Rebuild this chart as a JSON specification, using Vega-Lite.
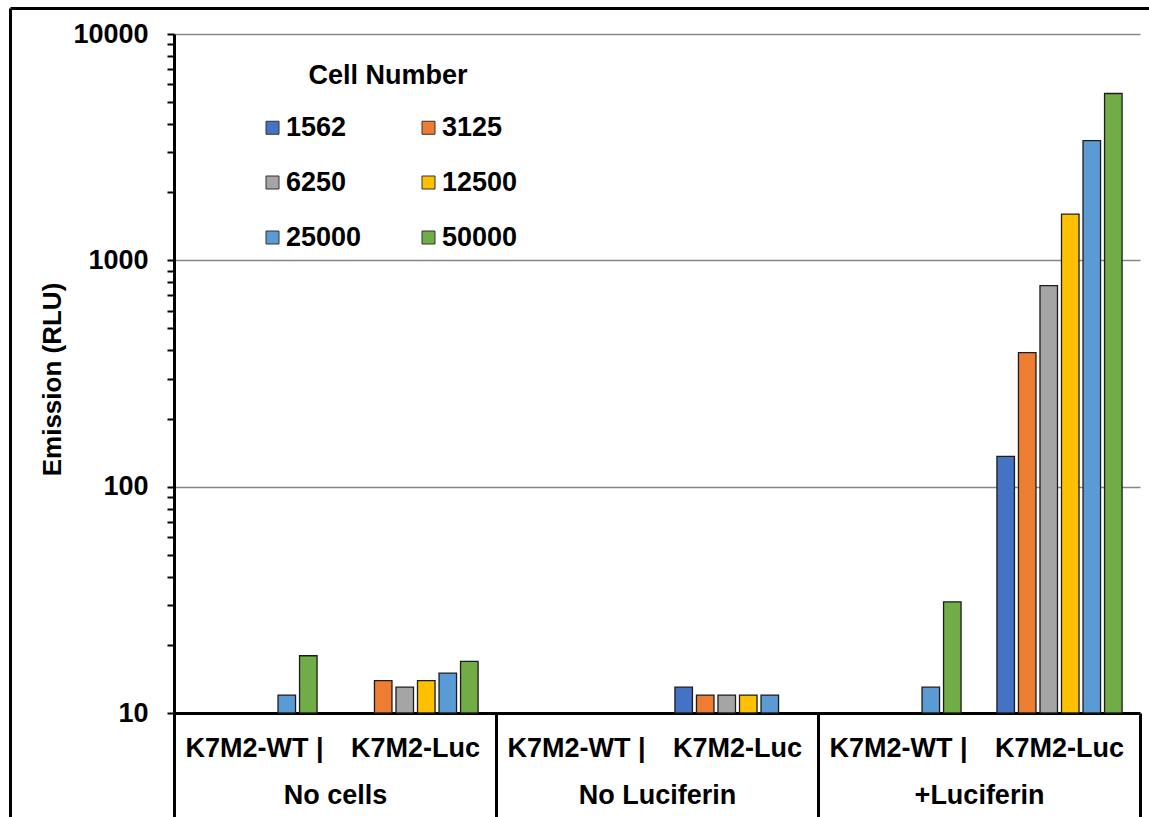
{
  "$schema": "https://vega.github.io/schema/vega-lite/v6.json",
  "width": 966,
  "height": 679,
  "autosize": {"type": "none"},
  "padding": {"left": 174, "top": 34, "right": 9, "bottom": 104},
  "background": "white",
  "config": {
    "font": "Liberation Sans",
    "view": {"stroke": null}
  },
  "data": {
    "values": [
      {"condition": "No cells", "line": "K7M2-WT |", "cells": "25000", "value": 12},
      {"condition": "No cells", "line": "K7M2-WT |", "cells": "50000", "value": 17.9},
      {"condition": "No cells", "line": "K7M2-Luc", "cells": "3125", "value": 13.9},
      {"condition": "No cells", "line": "K7M2-Luc", "cells": "6250", "value": 13},
      {"condition": "No cells", "line": "K7M2-Luc", "cells": "12500", "value": 13.9},
      {"condition": "No cells", "line": "K7M2-Luc", "cells": "25000", "value": 15},
      {"condition": "No cells", "line": "K7M2-Luc", "cells": "50000", "value": 16.9},
      {"condition": "No Luciferin", "line": "K7M2-Luc", "cells": "1562", "value": 13},
      {"condition": "No Luciferin", "line": "K7M2-Luc", "cells": "3125", "value": 12},
      {"condition": "No Luciferin", "line": "K7M2-Luc", "cells": "6250", "value": 12},
      {"condition": "No Luciferin", "line": "K7M2-Luc", "cells": "12500", "value": 12},
      {"condition": "No Luciferin", "line": "K7M2-Luc", "cells": "25000", "value": 12},
      {"condition": "+Luciferin", "line": "K7M2-WT |", "cells": "25000", "value": 13},
      {"condition": "+Luciferin", "line": "K7M2-WT |", "cells": "50000", "value": 31},
      {"condition": "+Luciferin", "line": "K7M2-Luc", "cells": "1562", "value": 136},
      {"condition": "+Luciferin", "line": "K7M2-Luc", "cells": "3125", "value": 391},
      {"condition": "+Luciferin", "line": "K7M2-Luc", "cells": "6250", "value": 773},
      {"condition": "+Luciferin", "line": "K7M2-Luc", "cells": "12500", "value": 1600},
      {"condition": "+Luciferin", "line": "K7M2-Luc", "cells": "25000", "value": 3380},
      {"condition": "+Luciferin", "line": "K7M2-Luc", "cells": "50000", "value": 5460}
    ]
  },
  "transform": [
    {"calculate": "datum.condition + '/' + datum.line", "as": "group"}
  ],
  "layer": [
    {
      "mark": {"type": "bar", "stroke": "#1c1c1c", "strokeWidth": 1.3},
      "encoding": {
        "x": {
          "field": "group",
          "type": "nominal",
          "scale": {
            "domain": [
              "No cells/K7M2-WT |", "No cells/K7M2-Luc",
              "No Luciferin/K7M2-WT |", "No Luciferin/K7M2-Luc",
              "+Luciferin/K7M2-WT |", "+Luciferin/K7M2-Luc"
            ],
            "paddingInner": 0,
            "paddingOuter": 0
          },
          "axis": {
            "orient": "bottom",
            "title": null,
            "labelExpr": "split(datum.value, '/')[1]",
            "labelAngle": 0,
            "labelFontSize": 27,
            "labelFontWeight": "bold",
            "labelColor": "black",
            "labelPadding": 22,
            "labelOverlap": false,
            "labelLimit": 300,
            "ticks": false,
            "domain": true,
            "domainColor": "black",
            "domainWidth": 3,
            "grid": false
          }
        },
        "xOffset": {
          "field": "cells",
          "type": "nominal",
          "scale": {
            "domain": ["1562", "3125", "6250", "12500", "25000", "50000"],
            "paddingInner": 0.186,
            "paddingOuter": 0.833
          }
        },
        "y": {
          "field": "value",
          "type": "quantitative",
          "stack": null,
          "scale": {"type": "log", "domain": [10, 10000], "nice": false},
          "axis": {
            "orient": "left",
            "title": "Emission (RLU)",
            "titleFontSize": 26,
            "titleFontWeight": "bold",
            "titleColor": "black",
            "titlePadding": 7,
            "titleY": 345,
            "values": [10, 20, 30, 40, 50, 60, 70, 80, 90, 100, 200, 300, 400, 500, 600, 700, 800, 900, 1000, 2000, 3000, 4000, 5000, 6000, 7000, 8000, 9000, 10000],
            "labelExpr": "indexof([10, 100, 1000, 10000], datum.value) >= 0 ? format(datum.value, 'd') : ''",
            "labelFontSize": 27,
            "labelFontWeight": "bold",
            "labelColor": "black",
            "labelPadding": 19,
            "labelOverlap": false,
            "labelFlush": false,
            "domain": true,
            "domainColor": "black",
            "domainWidth": 3,
            "ticks": true,
            "tickColor": "black",
            "tickWidth": 2,
            "tickSize": 7,
            "grid": true,
            "gridColor": {
              "condition": {"test": "indexof([100, 1000, 10000], datum.value) >= 0", "value": "#868686"},
              "value": "transparent"
            },
            "gridWidth": 1.5
          }
        },
        "y2": {"datum": 10},
        "color": {
          "field": "cells",
          "type": "nominal",
          "scale": {
            "domain": ["1562", "3125", "6250", "12500", "25000", "50000"],
            "range": ["#4472C4", "#ED7D31", "#A5A5A5", "#FFC000", "#5B9BD5", "#70AD47"]
          },
          "legend": {
            "orient": "none",
            "legendX": 85,
            "legendY": 29,
            "columns": 2,
            "direction": "horizontal",
            "padding": 0,
            "title": "Cell Number",
            "titleFontSize": 27,
            "titleFontWeight": "bold",
            "titleColor": "black",
            "titleAnchor": "middle",
            "titlePadding": 24,
            "labelFontSize": 27,
            "labelFontWeight": "bold",
            "labelColor": "black",
            "labelOffset": 0,
            "symbolType": "square",
            "symbolSize": 169,
            "symbolStrokeColor": "#333333",
            "symbolStrokeWidth": 1,
            "symbolOpacity": 1,
            "columnPadding": 53,
            "rowPadding": 27
          }
        }
      }
    },
    {
      "mark": {"type": "point", "opacity": 0},
      "encoding": {
        "x": {
          "field": "condition",
          "type": "nominal",
          "scale": {
            "domain": ["No cells", "No Luciferin", "+Luciferin"],
            "paddingInner": 0,
            "paddingOuter": 0
          },
          "axis": {
            "orient": "bottom",
            "title": null,
            "labelAngle": 0,
            "labelFontSize": 27,
            "labelFontWeight": "bold",
            "labelColor": "black",
            "labelPadding": -35,
            "labelOverlap": false,
            "labelLimit": 300,
            "domain": false,
            "grid": false,
            "ticks": true,
            "tickColor": "black",
            "tickWidth": 3,
            "tickSize": 104,
            "tickBand": "extent"
          }
        },
        "y": {
          "field": "value",
          "type": "quantitative",
          "scale": {"type": "log", "domain": [10, 10000], "nice": false, "range": [783, -26]},
          "axis": {
            "orient": "left",
            "offset": 164,
            "title": null,
            "labels": false,
            "ticks": false,
            "grid": false,
            "domain": true,
            "domainColor": "black",
            "domainWidth": 3
          }
        }
      }
    },
    {
      "mark": {"type": "point", "opacity": 0},
      "encoding": {
        "x": {
          "field": "condition",
          "type": "nominal",
          "scale": {
            "domain": ["No cells", "No Luciferin", "+Luciferin"],
            "range": [-164, 975],
            "paddingInner": 0,
            "paddingOuter": 0
          },
          "axis": {
            "orient": "top",
            "offset": 26,
            "title": null,
            "labels": false,
            "ticks": false,
            "grid": false,
            "domain": true,
            "domainColor": "black",
            "domainWidth": 3
          }
        }
      }
    }
  ],
  "resolve": {
    "scale": {"x": "independent", "y": "independent"},
    "axis": {"x": "independent", "y": "independent"}
  }
}
